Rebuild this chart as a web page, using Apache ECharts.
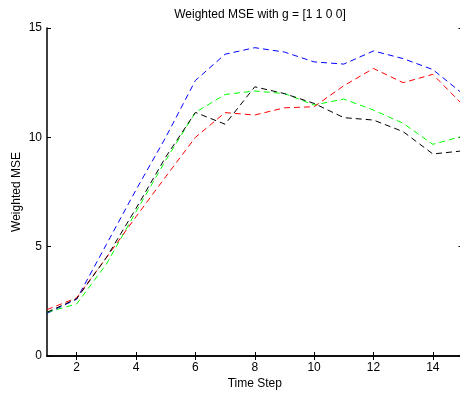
<!DOCTYPE html>
<html>
<head>
<meta charset="utf-8">
<script src="https://cdn.jsdelivr.net/npm/echarts@6/dist/echarts.min.js"></script>
<style>
html,body{margin:0;padding:0;background:#fff;}
#chart{width:460px;height:393px;}
</style>
</head>
<body>
<div id="chart"></div>
<script>
var timeSteps = [1,2,3,4,5,6,7,8,9,10,11,12,13,14,15];
var xTickValues = [2,4,6,8,10,12,14];
var blueSeries  = [1.95, 2.6, 5.1, 7.6, 10.0, 12.6, 13.8, 14.1, 13.9, 13.45, 13.35, 13.95, 13.6, 13.1, 12.0];
var greenSeries = [2.0, 2.38, 4.2, 6.6, 8.95, 11.14, 11.96, 12.12, 12.0, 11.48, 11.75, 11.25, 10.64, 9.68, 10.05];
var redSeries   = [2.12, 2.66, 4.5, 6.37, 8.2, 10.0, 11.13, 11.02, 11.35, 11.4, 12.36, 13.15, 12.5, 12.88, 11.5];
var blackSeries = [2.0, 2.62, 4.5, 6.75, 9.1, 11.14, 10.6, 12.31, 12.0, 11.55, 10.9, 10.79, 10.26, 9.24, 9.38];

function pairs(ys){ return timeSteps.map(function(x,i){ return [x, ys[i]]; }); }

var FONT = "'Liberation Sans', Arial, Helvetica, sans-serif";
var axisLineStyle = {color:'#000', width:1.5};

function mkLine(name, color, ys){
  return {
    name: name, type:'line', data: pairs(ys), symbol:'none', smooth:false,
    lineStyle:{color:color, width:1, type:[6,4]}, animation:false
  };
}

var chart = echarts.init(document.getElementById('chart'), null, {renderer:'canvas'});
chart.setOption({
  animation:false,
  backgroundColor:'#fff',
  textStyle:{fontFamily:FONT},
  title:{
    text:'Weighted MSE with g = [1 1 0 0]',
    left:255, top:4, textAlign:'center',
    textStyle:{fontFamily:FONT, fontSize:12, fontWeight:'normal', color:'#000'}
  },
  grid:{left:47, top:28, right:-2.5, bottom:37, containLabel:false, outerBoundsMode:'none'},
  xAxis:[
    {type:'value', min:1, max:15, position:'bottom',
     name:'Time Step', nameLocation:'middle', nameGap:22, nameMoveOverlap:false,
     nameTextStyle:{fontFamily:FONT, fontSize:12, color:'#000'},
     axisLine:{show:true, lineStyle:axisLineStyle},
     axisTick:{show:true, inside:true, length:4, customValues:xTickValues, lineStyle:{color:'#000', width:1}},
     axisLabel:{show:true, customValues:xTickValues, color:'#000', fontSize:12, fontFamily:FONT, margin:6},
     splitLine:{show:false}},
    {type:'value', min:1, max:15, position:'top',
     axisLine:{show:true, lineStyle:axisLineStyle},
     axisTick:{show:true, inside:true, length:4, customValues:xTickValues, lineStyle:{color:'#000', width:1}},
     axisLabel:{show:false},
     splitLine:{show:false}}
  ],
  yAxis:[
    {type:'value', min:0, max:15, interval:5, position:'left',
     name:'Weighted MSE', nameLocation:'middle', nameGap:24, nameMoveOverlap:false,
     nameTextStyle:{fontFamily:FONT, fontSize:12, color:'#000'},
     axisLine:{show:true, lineStyle:axisLineStyle},
     axisTick:{show:true, inside:true, length:4, lineStyle:{color:'#000', width:1}},
     axisLabel:{show:true, color:'#000', fontSize:12, fontFamily:FONT, margin:5},
     splitLine:{show:false}},
    {type:'value', min:0, max:15, interval:5, position:'right',
     axisLine:{show:true, lineStyle:axisLineStyle},
     axisTick:{show:true, inside:true, length:4, lineStyle:{color:'#000', width:1}},
     axisLabel:{show:false},
     splitLine:{show:false}}
  ],
  series:[
    mkLine('blue','#0000ff', blueSeries),
    mkLine('green','#00ff00', greenSeries),
    mkLine('red','#ff0000', redSeries),
    mkLine('black','#000000', blackSeries)
  ]
});
</script>
</body>
</html>
